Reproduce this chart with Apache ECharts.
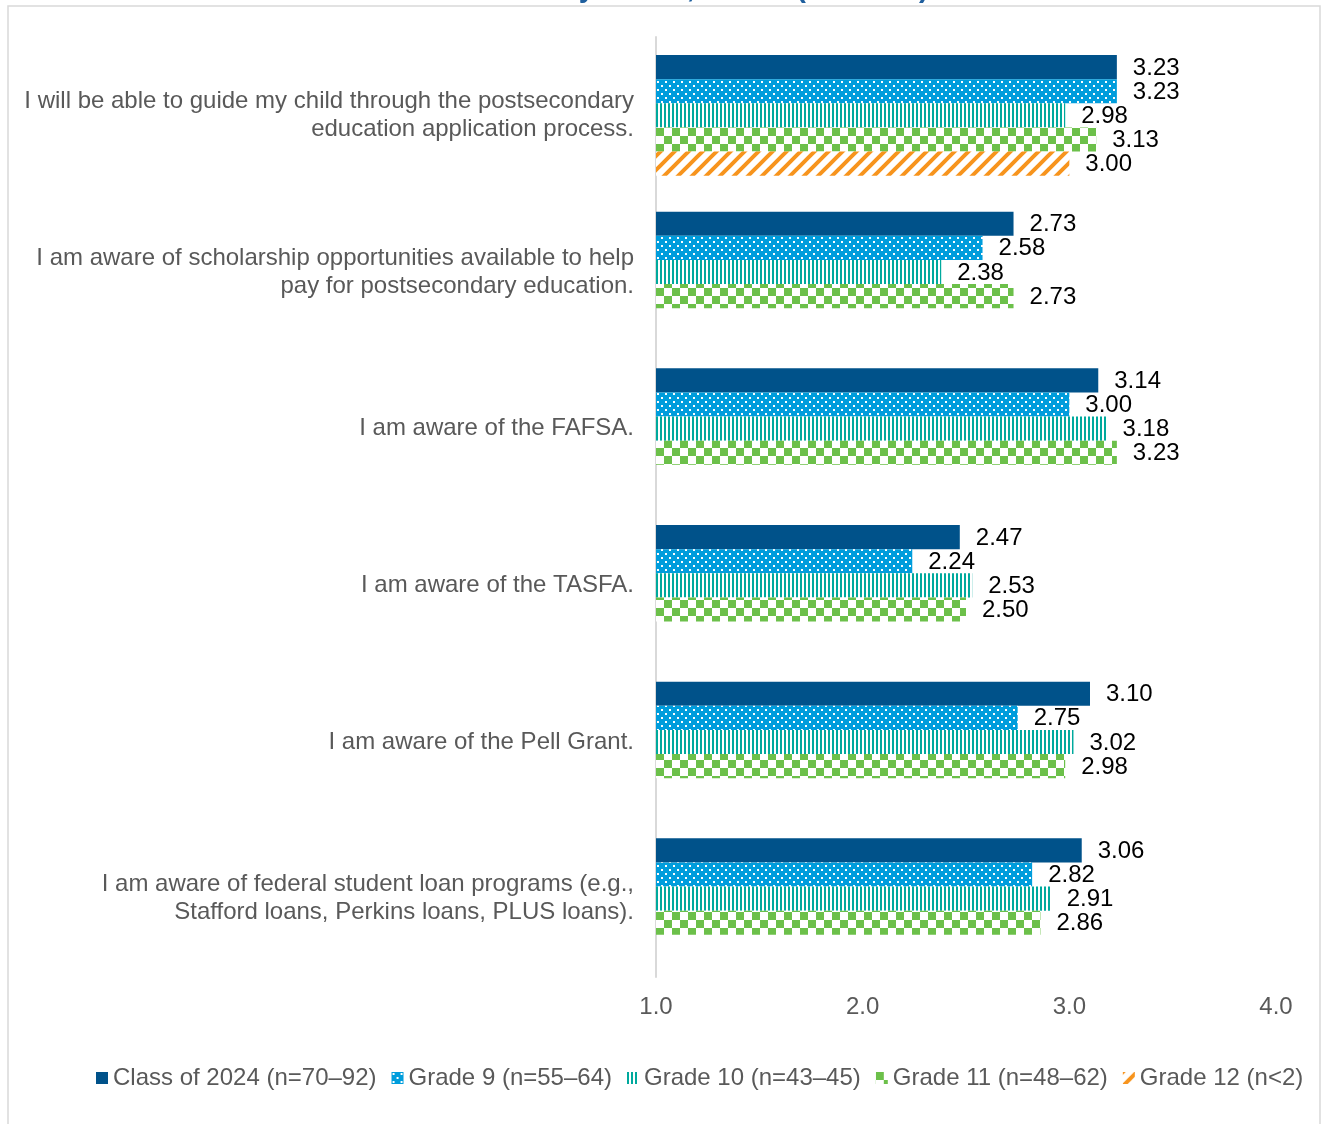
<!DOCTYPE html>
<html>
<head>
<meta charset="utf-8">
<script src="https://cdn.jsdelivr.net/npm/echarts@6/dist/echarts.min.js"></script>
<style>
  html, body { margin: 0; padding: 0; background: #fff; }
  #chart { width: 1322px; height: 1124px; }
</style>
</head>
<body>
<div id="chart"></div>
<script>
  // 题目（上方被裁掉，只露出底部）
  var titleText = 'Information by Grade, Year 5 (2021\u201322)';

  var statements = [
    'I will be able to guide my child through the postsecondary\neducation application process.',
    'I am aware of scholarship opportunities available to help\npay for postsecondary education.',
    'I am aware of the FAFSA.',
    'I am aware of the TASFA.',
    'I am aware of the Pell Grant.',
    'I am aware of federal student loan programs (e.g.,\nStafford loans, Perkins loans, PLUS loans).'
  ];

  var seriesNames = [
    'Class of 2024 (n=70\u201392)',
    'Grade 9 (n=55\u201364)',
    'Grade 10 (n=43\u201345)',
    'Grade 11 (n=48\u201362)',
    'Grade 12 (n<2)'
  ];

  var class2024 = [3.23, 2.73, 3.14, 2.47, 3.10, 3.06];
  var grade9 = [3.23, 2.58, 3.00, 2.24, 2.75, 2.82];
  var grade10 = [2.98, 2.38, 3.18, 2.53, 3.02, 2.91];
  var grade11 = [3.13, 2.73, 3.23, 2.50, 2.98, 2.86];
  var grade12 = [3.00, null, null, null, null, null];

  var xTicks = [1, 2, 3, 4];

  // 填充图案
  function makePattern(w, h, draw) {
    var c = document.createElement('canvas');
    c.width = w;
    c.height = h;
    draw(c.getContext('2d'));
    return { image: c, repeat: 'repeat' };
  }

  var dotsBlue = makePattern(8, 8, function(ctx) {
    ctx.fillStyle = '#009ddc';
    ctx.fillRect(0, 0, 8, 8);
    ctx.fillStyle = '#ffffff';
    ctx.fillRect(1, 1, 2, 2);
    ctx.fillRect(5, 5, 2, 2);
  });
  var stripesTeal = makePattern(4, 4, function(ctx) {
    ctx.fillStyle = '#ffffff';
    ctx.fillRect(0, 0, 4, 4);
    ctx.fillStyle = '#00a99d';
    ctx.fillRect(0, 0, 2, 4);
  });
  var checkGreen = makePattern(16, 16, function(ctx) {
    ctx.fillStyle = '#ffffff';
    ctx.fillRect(0, 0, 16, 16);
    ctx.fillStyle = '#6cc04a';
    ctx.fillRect(0, 0, 8, 8);
    ctx.fillRect(8, 8, 8, 8);
  });
  var diagOrange = makePattern(14, 14, function(ctx) {
    ctx.fillStyle = '#ffffff';
    ctx.fillRect(0, 0, 14, 14);
    ctx.strokeStyle = '#f7941d';
    ctx.lineWidth = 4;
    ctx.beginPath();
    ctx.moveTo(-3, 17); ctx.lineTo(17, -3);
    ctx.moveTo(-10, 10); ctx.lineTo(10, -10);
    ctx.moveTo(4, 24); ctx.lineTo(24, 4);
    ctx.stroke();
  });

  var fills = ['#00528a', dotsBlue, stripesTeal, checkGreen, diagOrange];
  var values = [class2024, grade9, grade10, grade11, grade12];

  var chart = echarts.init(document.getElementById('chart'));

  var series = seriesNames.map(function(name, i) {
    return {
      name: name,
      type: 'bar',
      barGap: '0%',
      barCategoryGap: '23%',
      itemStyle: { color: fills[i] },
      label: {
        show: true,
        position: 'right',
        distance: 16,
        offset: [0, 1],
        color: '#000',
        fontSize: 24,
        fontFamily: 'Liberation Sans',
        formatter: function(p) {
          return p.value == null ? '' : p.value.toFixed(2);
        }
      },
      data: values[i]
    };
  });

  chart.setOption({
    animation: false,
    textStyle: { fontFamily: 'Liberation Sans' },
    title: {
      text: titleText,
      left: 'center',
      top: -26,
      padding: 0,
      textStyle: {
        fontSize: 29,
        fontWeight: 'bold',
        color: '#1f5f9e',
        fontFamily: 'Liberation Sans'
      }
    },
    // 外框
    graphic: [{
      type: 'rect',
      shape: { x: 8, y: 6, width: 1312, height: 1130 },
      style: { fill: 'none', stroke: '#d9d9d9', lineWidth: 1.5 },
      silent: true
    }],
    grid: {
      left: 656,
      right: 46,
      top: 37,
      bottom: 147,
      containLabel: false
    },
    legend: {
      left: 96,
      top: 1066,
      padding: 0,
      itemGap: 15,
      itemWidth: 12,
      itemHeight: 12,
      icon: 'rect',
      textStyle: {
        fontSize: 24,
        color: '#595959',
        fontFamily: 'Liberation Sans'
      },
      data: seriesNames
    },
    xAxis: {
      type: 'value',
      min: xTicks[0],
      max: xTicks[xTicks.length - 1],
      interval: 1,
      axisLine: { show: false },
      axisTick: { show: false },
      splitLine: { show: false },
      axisLabel: {
        margin: 18,
        fontSize: 24,
        color: '#595959',
        formatter: function(v) { return v.toFixed(1); }
      }
    },
    yAxis: {
      type: 'category',
      inverse: true,
      data: statements,
      axisLine: { show: true, lineStyle: { color: '#d9d9d9', width: 2 } },
      axisTick: { show: false },
      axisLabel: {
        margin: 22,
        fontSize: 24,
        lineHeight: 28,
        color: '#595959',
        align: 'right'
      }
    },
    series: series
  });
</script>
</body>
</html>
